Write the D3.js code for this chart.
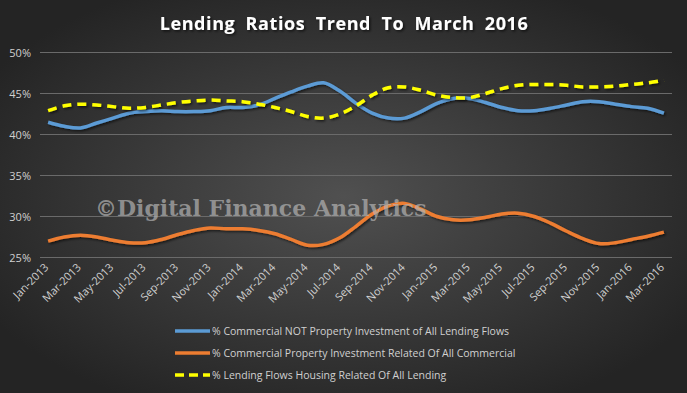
<!DOCTYPE html>
<html>
<head>
<meta charset="utf-8">
<script src="https://cdn.jsdelivr.net/npm/d3@7"></script>
<style>
  body { margin: 0; background: #2b2b2b; }
  svg { display: block; }
  .tick-label { fill: #d0d0d0; font-family: "Open Sans", sans-serif; font-size: 11px; }
  .legend-label { fill: #d0d0d0; font-family: "Open Sans", sans-serif; font-size: 10.5px; }
</style>
</head>
<body>
<svg id="chart"></svg>
<script>
// Month categories (Jan-2013 .. Mar-2016)
const monthNames = ["Jan","Feb","Mar","Apr","May","Jun","Jul","Aug","Sep","Oct","Nov","Dec"];
const months = [];
for (let y = 2013; y <= 2016; y++) {
    for (let m = 0; m < 12; m++) {
        if (y === 2016 && m > 2) break;
        months.push(`${monthNames[m]}-${y}`);
    }
}

// Series values (%)
const commercialNotProperty = [
    41.5, 41.0, 40.8, 41.4, 42.0, 42.6, 42.8, 42.9, 42.8, 42.8, 42.9, 43.3,
    43.3, 43.6, 44.4, 45.2, 45.9, 46.3, 45.3, 43.8, 42.6, 42.0, 42.0, 42.8,
    43.8, 44.4, 44.4, 43.9, 43.3, 42.9, 42.9, 43.2, 43.6, 44.0, 44.0, 43.7,
    43.4, 43.2, 42.6
];
const commercialProperty = [
    27.0, 27.5, 27.7, 27.5, 27.1, 26.8, 26.8, 27.2, 27.8, 28.3, 28.6, 28.5,
    28.5, 28.3, 27.9, 27.2, 26.5, 26.6, 27.4, 28.8, 30.3, 31.3, 31.6, 30.9,
    30.0, 29.6, 29.6, 29.9, 30.3, 30.4, 30.0, 29.2, 28.2, 27.3, 26.7, 26.8,
    27.2, 27.6, 28.1
];
const housingRelated = [
    42.9, 43.5, 43.7, 43.6, 43.4, 43.2, 43.3, 43.6, 43.9, 44.1, 44.2, 44.1,
    44.0, 43.7, 43.3, 42.8, 42.2, 42.0, 42.5, 43.5, 44.8, 45.7, 45.8, 45.4,
    44.8, 44.5, 44.5, 45.0, 45.6, 46.0, 46.1, 46.1, 46.0, 45.8, 45.8, 45.9,
    46.1, 46.3, 46.6
];

const seriesNames = [
    "% Commercial NOT Property Investment of All Lending Flows",
    "% Commercial Property Investment Related Of All Commercial",
    "% Lending Flows Housing Related Of All Lending"
];
const yTicks = [25, 30, 35, 40, 45, 50];

const series = [
    { name: seriesNames[0], values: commercialNotProperty, color: "#5b9bd5", dash: null },
    { name: seriesNames[1], values: commercialProperty, color: "#ed7d31", dash: null },
    { name: seriesNames[2], values: housingRelated, color: "#ffff00", dash: "9,6" }
];

const width = 687, height = 393;
const margin = { top: 52.5, right: 15, bottom: 135.5, left: 40 };
const innerW = width - margin.left - margin.right;
const innerH = height - margin.top - margin.bottom;

const svg = d3.select("#chart")
    .attr("width", width)
    .attr("height", height);

// Background radial gradient
const defs = svg.append("defs");
const grad = defs.append("radialGradient")
    .attr("id", "bg")
    .attr("cx", "50%").attr("cy", "50%").attr("r", "60%");
grad.append("stop").attr("offset", "0%").attr("stop-color", "#505050");
grad.append("stop").attr("offset", "100%").attr("stop-color", "#242424");

const shadow = defs.append("filter").attr("id", "shadow")
    .attr("x", "-5%").attr("y", "-20%").attr("width", "110%").attr("height", "140%");
shadow.append("feDropShadow")
    .attr("dx", 1.5).attr("dy", 1.5).attr("stdDeviation", 1.2)
    .attr("flood-color", "#000").attr("flood-opacity", 0.6);

svg.append("rect")
    .attr("width", width).attr("height", height)
    .attr("fill", "url(#bg)");

// Title
svg.append("text")
    .attr("x", 344)
    .attr("y", 30)
    .attr("text-anchor", "middle")
    .attr("fill", "#ffffff")
    .attr("filter", "url(#shadow)")
    .style("font-family", "'Open Sans', sans-serif")
    .style("font-weight", "bold")
    .style("font-size", "18px")
    .style("word-spacing", "5px")
    .style("letter-spacing", "0.6px")
    .text("Lending Ratios Trend To March 2016");

const chart = svg.append("g")
    .attr("transform", `translate(${margin.left},${margin.top})`);

// Scales
const xScale = d3.scaleBand().domain(months).range([0, innerW]);
const yScale = d3.scaleLinear().domain([25, 50]).range([innerH, 0]);
const xPos = i => xScale(months[i]) + xScale.bandwidth() / 2;

// Gridlines
chart.append("g")
    .selectAll("line")
    .data(yTicks)
    .join("line")
    .attr("x1", 0).attr("x2", innerW)
    .attr("y1", d => yScale(d)).attr("y2", d => yScale(d))
    .attr("stroke", "#6a6a6a")
    .attr("stroke-width", 1);

// Y axis
const yAxis = d3.axisLeft(yScale).tickValues(yTicks).tickSize(0).tickPadding(9)
    .tickFormat(d => d + "%");
chart.append("g")
    .call(yAxis)
    .call(g => g.select(".domain").remove())
    .selectAll("text")
    .attr("class", "tick-label")
    .attr("fill", null);

// X axis (every other month), labels rotated so they end just under the tick
const xAxis = d3.axisBottom(xScale)
    .tickValues(months.filter((d, i) => i % 2 === 0))
    .tickSize(0);
chart.append("g")
    .attr("transform", `translate(0,${innerH})`)
    .call(xAxis)
    .call(g => g.select(".domain").remove())
    .selectAll("text")
    .attr("class", "tick-label")
    .attr("fill", null)
    .attr("text-anchor", "end")
    .attr("x", 0)
    .attr("y", 0)
    .attr("dx", "-0.6em")
    .attr("dy", "0.75em")
    .attr("transform", "rotate(-45)");

// Lines
const line = d3.line()
    .x((d, i) => xPos(i))
    .y(d => yScale(d))
    .curve(d3.curveCatmullRom.alpha(0.5));

chart.selectAll(".series")
    .data(series)
    .join("path")
    .attr("class", "series")
    .attr("d", d => line(d.values))
    .attr("fill", "none")
    .attr("stroke", d => d.color)
    .attr("stroke-width", 3.5)
    .attr("stroke-dasharray", d => d.dash)
    .attr("filter", "url(#shadow)");

// Watermark
svg.append("text")
    .attr("x", 95)
    .attr("y", 216)
    .attr("fill", "#b4b4b4")
    .attr("fill-opacity", 0.7)
    .style("font-family", "'DejaVu Serif', serif")
    .style("font-weight", "bold")
    .style("font-size", "22px")
    .text("©Digital Finance Analytics");

// Legend
const legend = svg.append("g")
    .attr("transform", "translate(175,331)");
const rows = legend.selectAll("g")
    .data(series)
    .join("g")
    .attr("transform", (d, i) => `translate(0,${i * 22})`);
rows.append("line")
    .attr("x1", 0).attr("x2", 35)
    .attr("y1", 0).attr("y2", 0)
    .attr("stroke", d => d.color)
    .attr("stroke-width", 3.5)
    .attr("stroke-dasharray", d => d.dash ? "9,5" : null);
rows.append("text")
    .attr("class", "legend-label")
    .attr("x", 37)
    .attr("dy", "0.35em")
    .text(d => d.name);
</script>
</body>
</html>
